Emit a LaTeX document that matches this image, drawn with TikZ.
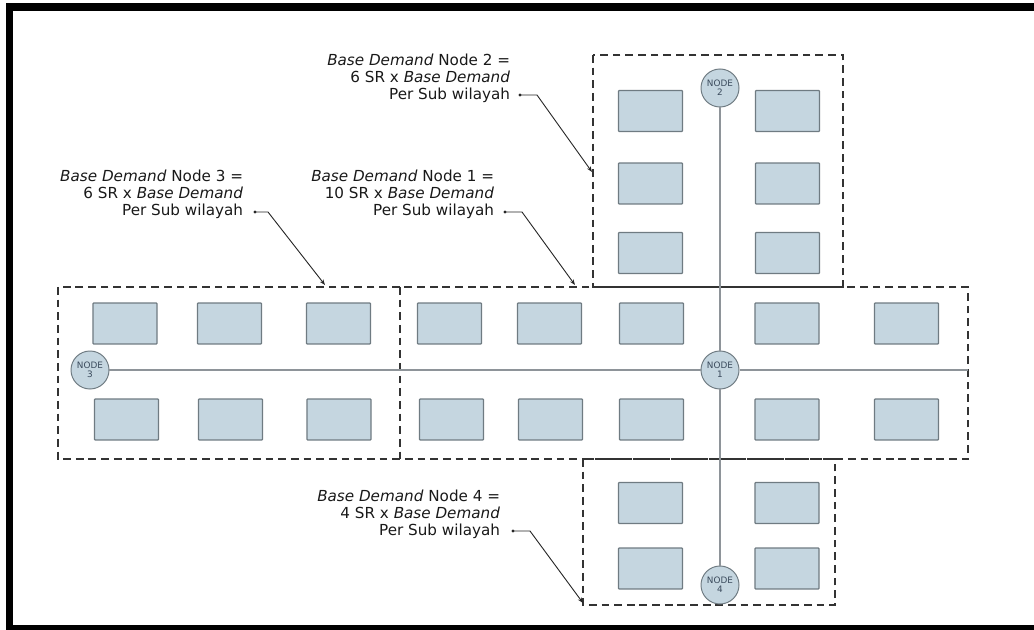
\documentclass[tikz,border=0pt]{standalone}
\usepackage{fontspec}
\setmainfont{DejaVu Sans}
\usepackage{tikz}
\usetikzlibrary{arrows.meta, shapes.geometric}

\definecolor{rumahbiru}{HTML}{C5D6E0}
\definecolor{garisabu}{HTML}{6F7B82}
\definecolor{pipaabu}{HTML}{8E9499}
\definecolor{teksnode}{HTML}{3A4A5C}

\begin{document}
\begin{tikzpicture}[x=0.025cm, y=-0.025cm, >={Stealth[length=4pt, width=3pt]}]
    \tikzstyle{rumah} = [draw=garisabu, fill=rumahbiru, line width=0.9pt, rounded corners=0.5pt, minimum width=1.6cm, minimum height=1.02cm, inner sep=0pt]
    \tikzstyle{simpul} = [draw=garisabu, fill=rumahbiru, circle, line width=0.7pt, minimum size=0.95cm, inner sep=0pt, align=center, text=teksnode, font=\fontsize{6.3}{6.5}\selectfont]
    \tikzstyle{zona} = [draw=black!80, line width=1.6pt, dash pattern=on 5.5pt off 3.5pt]
    \tikzstyle{pipa} = [draw=pipaabu, line width=0.8pt]
    \tikzstyle{ket} = [align=right, text=black!90, font=\fontsize{10.8}{12.1}\selectfont]
    \tikzstyle{penunjuk} = [draw=black!85, line width=0.65pt, ->]

    \useasboundingbox (0,0) rectangle (1034,630);

    % Bingkai luar
    \fill[black] (6,3.5) rectangle (1034,11.5);
    \fill[black] (6,3.5) rectangle (13,630);
    \fill[black] (6,625) rectangle (1034,630);

    % Zona sub wilayah
    \draw[zona] (593,55) rectangle (843,287);
    \draw[zona] (58,287) rectangle (968,459);
    \draw[zona, line width=2pt] (400,287) -- (400,459);
    \draw[zona] (583,459) rectangle (835,605);

    % Rumah zona atas
    \node[rumah] (a1) at (650.5,111) {};
    \node[rumah] (a2) at (650.5,183.5) {};
    \node[rumah] (a3) at (650.5,253) {};
    \node[rumah] (a4) at (787.5,111) {};
    \node[rumah] (a5) at (787.5,183.5) {};
    \node[rumah] (a6) at (787.5,253) {};

    % Rumah baris tengah atas
    \node[rumah] (t1) at (125,323.5) {};
    \node[rumah] (t2) at (229.5,323.5) {};
    \node[rumah] (t3) at (338.5,323.5) {};
    \node[rumah] (t4) at (449.5,323.5) {};
    \node[rumah] (t5) at (549.5,323.5) {};
    \node[rumah] (t6) at (651.5,323.5) {};
    \node[rumah] (t7) at (787,323.5) {};
    \node[rumah] (t8) at (906.5,323.5) {};

    % Rumah baris tengah bawah
    \node[rumah] (m1) at (126.5,419.5) {};
    \node[rumah] (m2) at (230.5,419.5) {};
    \node[rumah] (m3) at (339,419.5) {};
    \node[rumah] (m4) at (451.5,419.5) {};
    \node[rumah] (m5) at (550.5,419.5) {};
    \node[rumah] (m6) at (651.5,419.5) {};
    \node[rumah] (m7) at (787,419.5) {};
    \node[rumah] (m8) at (906.5,419.5) {};

    % Rumah zona bawah
    \node[rumah] (b1) at (650.5,503) {};
    \node[rumah] (b2) at (650.5,568.5) {};
    \node[rumah] (b3) at (787,503) {};
    \node[rumah] (b4) at (787,568.5) {};

    % Node dan pipa
    \node[simpul] (n1) at (720,370) {NODE\\1};
    \node[simpul] (n2) at (720,88) {NODE\\2};
    \node[simpul] (n3) at (90,370) {NODE\\3};
    \node[simpul] (n4) at (720,585) {NODE\\4};
    \coordinate (ujung) at (968,370);
    \draw[pipa] (n3) -- (n1);
    \draw[pipa] (n1) -- (ujung);
    \draw[pipa] (n2) -- (n1);
    \draw[pipa] (n1) -- (n4);

    % Keterangan node 2
    \node[ket, anchor=east] (k2) at (515,78) {\textit{Base Demand} Node 2 =\\6 SR x \textit{Base Demand}\\Per Sub wilayah};
    \coordinate (p2) at (520,95);
    \coordinate (s2) at (537,95);
    \coordinate (e2) at (592,172);
    \fill[black!85] (p2) circle (1.6);
    \draw[penunjuk] (p2) -- (s2) -- (e2);

    % Keterangan node 1
    \node[ket, anchor=east] (k1) at (499,194) {\textit{Base Demand} Node 1 =\\10 SR x \textit{Base Demand}\\Per Sub wilayah};
    \coordinate (p1) at (505,212);
    \coordinate (s1) at (522,212);
    \coordinate (e1) at (575,285);
    \fill[black!85] (p1) circle (1.6);
    \draw[penunjuk] (p1) -- (s1) -- (e1);

    % Keterangan node 3
    \node[ket, anchor=east] (k3) at (248,194) {\textit{Base Demand} Node 3 =\\6 SR x \textit{Base Demand}\\Per Sub wilayah};
    \coordinate (p3) at (255,212);
    \coordinate (s3) at (268,212);
    \coordinate (e3) at (325,285);
    \fill[black!85] (p3) circle (1.6);
    \draw[penunjuk] (p3) -- (s3) -- (e3);

    % Keterangan node 4
    \node[ket, anchor=east] (k4) at (505,514) {\textit{Base Demand} Node 4 =\\4 SR x \textit{Base Demand}\\Per Sub wilayah};
    \coordinate (p4) at (513,531);
    \coordinate (s4) at (530,531);
    \coordinate (e4) at (583,603);
    \fill[black!85] (p4) circle (1.6);
    \draw[penunjuk] (p4) -- (s4) -- (e4);
\end{tikzpicture}
\end{document}
